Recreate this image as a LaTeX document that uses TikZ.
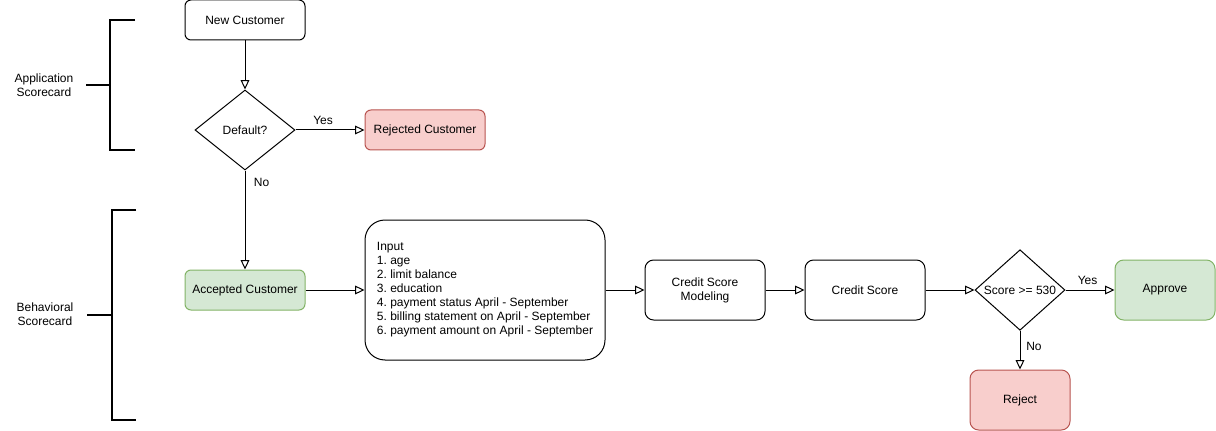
\documentclass[tikz,border=0pt]{standalone}
\usepackage{fontspec}
\setmainfont{Liberation Sans}
\usetikzlibrary{arrows.meta}
\usetikzlibrary{shapes.geometric}
\frenchspacing

\definecolor{okfill}{HTML}{D5E8D4}
\definecolor{okline}{HTML}{82B366}
\definecolor{badfill}{HTML}{F8CECC}
\definecolor{badline}{HTML}{B85450}

\tikzset{
    every node/.style={font=\fontsize{9}{10.5}\selectfont},
    box/.style={draw, line width=0.75pt, rounded corners=4.5pt, minimum width=90pt, minimum height=30pt, inner sep=0pt},
    bigbox/.style={draw, line width=0.75pt, rounded corners=6.5pt, minimum width=90pt, minimum height=45pt, inner sep=0pt, align=center},
    okbox/.style={bigbox, fill=okfill, draw=okline, minimum width=75pt},
    badbox/.style={bigbox, fill=badfill, draw=badline, minimum width=75pt},
    decide/.style={draw, diamond, line width=0.75pt, inner sep=0pt},
    flow/.style={line width=0.75pt, -{Triangle[open, length=7pt, width=6.5pt]}},
    bracket/.style={line width=1.5pt}
}

\begin{document}
\begin{tikzpicture}[x=0.75pt, y=-0.75pt]
        \useasboundingbox (0,0) rectangle (1216,431);

        % Application part
        \node[box] (new) at (245,20) {New Customer};
        \node[decide, minimum width=75pt, minimum height=60pt] (default) at (245,130) {Default?};
        \node[box, fill=badfill, draw=badline] (rejected) at (425,130) {Rejected Customer};

        % Behavioral part
        \node[box, fill=okfill, draw=okline] (accepted) at (245,290) {Accepted Customer};
        \node[draw, line width=0.75pt, rounded corners=15pt, minimum width=180pt, minimum height=105pt,
              inner sep=0pt, align=left] (input) at (485,290)
            {Input\\1. age\\2. limit balance\\3. education\\4. payment status April - September\\5. billing statement on April - September\\6. payment amount on April - September};
        \node[bigbox] (model) at (705,290) {Credit Score\\Modeling};
        \node[bigbox] (score) at (865,290) {Credit Score};
        \node[decide, minimum width=67.5pt, minimum height=60pt] (check) at (1020,290) {Score >= 530};
        \node[okbox] (approve) at (1165,290) {Approve};
        \node[badbox] (reject) at (1020,400) {Reject};

        % Connectors
        \draw[flow] (new) -- (default);
        \draw[flow] (default) -- node[above, pos=0.4] {Yes} (rejected);
        \draw[flow] (default) -- node[right, pos=0.12, xshift=3pt] {No} (accepted);
        \draw[flow] (accepted) -- (input);
        \draw[flow] (input) -- (model);
        \draw[flow] (model) -- (score);
        \draw[flow] (score) -- (check);
        \draw[flow] (check) -- node[above, pos=0.45] {Yes} (approve);
        \draw[flow] (check) -- node[right, pos=0.4, xshift=1pt] {No} (reject);

        % Brackets on the left
        \draw[bracket] (135,20) -- (110,20) -- (110,150) -- (135,150);
        \draw[bracket] (86,85) -- (110,85);
        \node[align=center] (applabel) at (44,85) {Application\\Scorecard};

        \draw[bracket] (136,210) -- (112,210) -- (112,420) -- (136,420);
        \draw[bracket] (87,315) -- (112,315);
        \node[align=center] (behlabel) at (45,314) {Behavioral\\Scorecard};
    \end{tikzpicture}
\end{document}
